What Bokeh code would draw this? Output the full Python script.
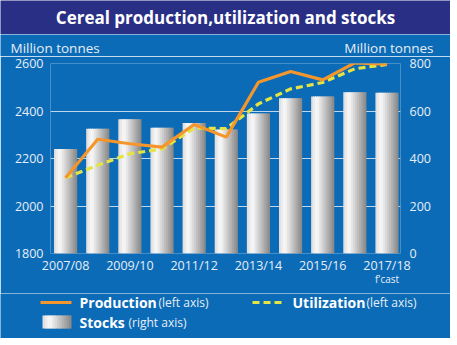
from bokeh.plotting import figure
from bokeh.models import Range1d, LinearAxis, FixedTicker, ColumnDataSource
from bokeh.transform import dodge
from bokeh.layouts import column
from bokeh.embed import file_html
from bokeh.resources import INLINE
from bokeh.core.properties import value

# ---- data ----
seasons = ["2007/08", "2008/09", "2009/10", "2010/11", "2011/12", "2012/13",
           "2013/14", "2014/15", "2015/16", "2016/17", "2017/18"]
production = [2119, 2281, 2262, 2248, 2343, 2290, 2521, 2566, 2531, 2603, 2597]
utilization = [2119, 2172, 2220, 2240, 2328, 2326, 2430, 2493, 2520, 2578, 2596]
stocks = [440, 525, 565, 530, 550, 522, 589, 654, 661, 679, 677]
tick_seasons = ["2007/08", "2009/10", "2011/12", "2013/14", "2015/16", "2017/18"]

title_text = "Cereal production,utilization and stocks"
unit_text = "Million tonnes"
forecast_note = "f'cast"

NAVY = "#2a2f86"
BLUE = "#0b6bb6"
TXT = "#e8eef6"
ORANGE = "#f5962c"
YELLOW = "#e4e445"
FONT = "Open Sans"

W = 450


def blank_fig(h, bg):
    f = figure(width=W, height=h, x_range=Range1d(0, W), y_range=Range1d(0, h),
               output_backend="svg", toolbar_location=None, min_border=0,
               x_axis_location=None, y_axis_location=None, frame_align=False)
    f.grid.visible = False
    f.outline_line_color = None
    f.background_fill_color = bg
    f.border_fill_color = bg
    return f


# ---- title bar ----
t = blank_fig(34, NAVY)
t.text(x=[W / 2], y=[17], text=[title_text], text_align="center", text_baseline="middle",
       text_color="white", text_font=value(FONT), text_font_style="bold", text_font_size="17px")

# ---- units row ----
u = blank_fig(22, BLUE)
u.text(x=[10], y=[9], text=[unit_text], text_align="left", text_baseline="middle",
       text_color=TXT, text_font=value(FONT), text_font_size="13.5px")
u.text(x=[433], y=[9], text=[unit_text], text_align="right", text_baseline="middle",
       text_color=TXT, text_font=value(FONT), text_font_size="13.5px")

# ---- main chart ----
xs = list(range(len(seasons)))
src = ColumnDataSource(dict(x=xs, season=seasons, production=production,
                            utilization=utilization, stocks=stocks))

p = figure(width=W, height=237, x_range=Range1d(-0.47, 10.42), y_range=Range1d(1800, 2600),
           output_backend="svg", toolbar_location=None, frame_align=False,
           min_border_left=50, min_border_right=50, min_border_top=7, min_border_bottom=40)
p.extra_y_ranges = {"stocks": Range1d(0, 800)}
p.background_fill_color = BLUE
p.border_fill_color = BLUE
p.outline_line_color = None

p.xgrid.visible = False
p.ygrid.ticker = FixedTicker(ticks=[1800, 2000, 2200, 2400, 2600])
p.ygrid.grid_line_color = "#dfe9f5"
p.ygrid.grid_line_alpha = 0.85
p.ygrid.grid_line_width = 1

# gradient bars as vertical strips
n_strips = 12
bar_w = 0.72
strip_w = bar_w / n_strips


def strip_color(i):
    f = (i + 0.5) / n_strips
    if f < 0.25:
        g = 0.86 + (f / 0.25) * 0.12
    else:
        g = 0.98 - ((f - 0.25) / 0.75) * 0.46
    v = int(round(g * 255))
    return "#%02x%02x%02x" % (v, v, v)


for i in range(n_strips):
    w_i = strip_w * (1.6 if i < n_strips - 1 else 1.0)
    off = -bar_w / 2 + strip_w * i + w_i / 2
    p.vbar(x=dodge("x", off), top="stocks", bottom=0, width=w_i, source=src,
           y_range_name="stocks", fill_color=strip_color(i), line_color=None)

p.line("x", "utilization", source=src, line_color=YELLOW, line_width=3.2, line_dash="7 4")
p.line("x", "production", source=src, line_color=ORANGE, line_width=3.2)

p.xaxis.ticker = FixedTicker(ticks=[0, 2, 4, 6, 8, 10])
p.xaxis.major_label_overrides = {i: s for i, s in enumerate(seasons) if s in tick_seasons}
p.yaxis.ticker = FixedTicker(ticks=[1800, 2000, 2200, 2400, 2600])

ra = LinearAxis(y_range_name="stocks", ticker=FixedTicker(ticks=[0, 200, 400, 600, 800]))
p.add_layout(ra, "right")

# second bottom axis carrying the forecast note under the last season
last = len(seasons) - 1
fa = LinearAxis(ticker=FixedTicker(ticks=[last]), major_label_overrides={last: forecast_note})
p.add_layout(fa, "below")

for ax in p.axis:
    ax.axis_line_color = None
    ax.major_tick_line_color = None
    ax.minor_tick_line_color = None
    ax.major_tick_out = 0
    ax.major_tick_in = 0
    ax.minor_tick_out = 0
    ax.minor_tick_in = 0
    ax.major_label_text_color = TXT
    ax.major_label_text_font = FONT
    ax.major_label_text_font_size = "12.5px"
p.xaxis[0].major_label_standoff = 3
fa.major_label_standoff = -5
fa.major_label_text_font_size = "10px"
p.yaxis[0].major_label_standoff = 7
ra.major_label_standoff = 9

# ---- legend ----
lg = blank_fig(45, BLUE)

lg.line([40, 71], [36, 36], line_color=ORANGE, line_width=3.2)
lg.line([252, 283], [36, 36], line_color=YELLOW, line_width=3.2, line_dash="7 4")
bx0, bx1 = 42, 71
sw = (bx1 - bx0) / n_strips
for i in range(n_strips):
    ext = sw * 0.6 if i < n_strips - 1 else 0
    lg.quad(left=bx0 + i * sw, right=bx0 + (i + 1) * sw + ext, bottom=10, top=23,
            fill_color=strip_color(i), line_color=None)

bold_kw = dict(text_font=value(FONT), text_font_style="bold", text_font_size="14px",
               text_color="white", text_baseline="middle")
small_kw = dict(text_font=value(FONT), text_font_size="12px", text_color=TXT,
                text_baseline="middle")
lg.text(x=[79], y=[36], text=["Production"], **bold_kw)
lg.text(x=[158], y=[36], text=["(left axis)"], **small_kw)
lg.text(x=[292], y=[36], text=["Utilization"], **bold_kw)
lg.text(x=[366], y=[36], text=["(left axis)"], **small_kw)
lg.text(x=[79], y=[16], text=["Stocks"], **bold_kw)
lg.text(x=[128], y=[16], text=["(right axis)"], **small_kw)

layout = column(t, u, p, lg, spacing=0)
open("out.html", "w").write(file_html(layout, INLINE))
